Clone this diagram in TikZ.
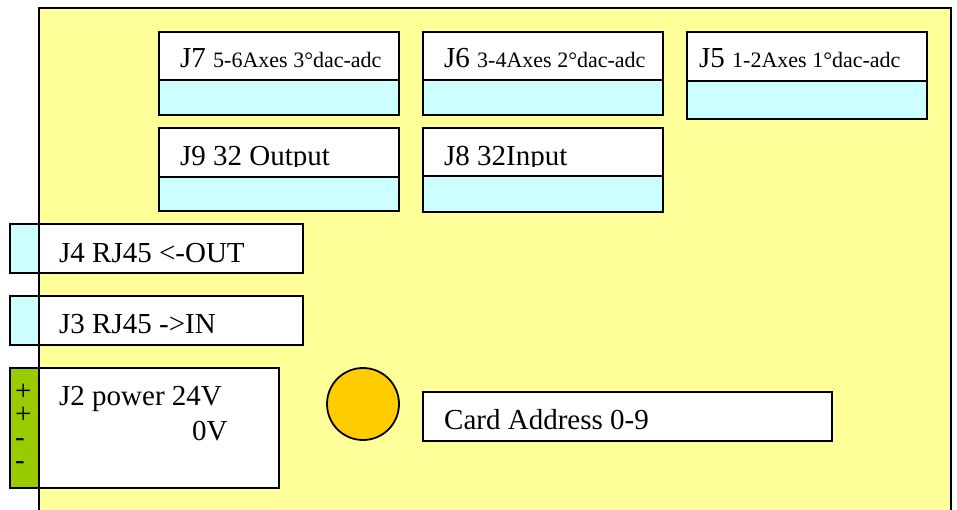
\documentclass[tikz,border=0pt]{standalone}
\usepackage{fontspec}
\setmainfont{Liberation Serif}

\definecolor{boardyellow}{HTML}{FFFF99}
\definecolor{pincyan}{HTML}{CCFFFF}
\definecolor{powergreen}{HTML}{99CC00}
\definecolor{switchorange}{HTML}{FFCC00}

\tikzset{
  part/.style={draw=black, line width=1.8pt, anchor=north west, inner sep=0pt, outer sep=0pt},
  plug/.style={part, fill=white},
  pins/.style={part, fill=pincyan},
  txt/.style={anchor=base west, inner sep=0pt, font=\fontsize{29}{29}\selectfont},
  signs/.style={anchor=north west, inner sep=0pt, align=left, font=\fontsize{29}{23}\selectfont}
}
\newcommand{\smalltxt}[1]{{\fontsize{22}{22}\selectfont #1}}

\begin{document}
\begin{tikzpicture}[x=1pt,y=-1pt]
\useasboundingbox (0,0) rectangle (957,510);
% board
\fill [boardyellow] (39,8) rectangle (951,510);
\draw [line width=1.8pt] (39,510) -- (39,8) -- (951,8) -- (951,510);

% top row
\node[plug, minimum width=240pt, minimum height=48pt] (j7) at (159,32) {};
\node[pins, minimum width=240pt, minimum height=35pt] (j7p) at (159,80) {};
\node[plug, minimum width=240pt, minimum height=48pt] (j6) at (423,32) {};
\node[pins, minimum width=240pt, minimum height=35pt] (j6p) at (423,80) {};
\node[plug, minimum width=240pt, minimum height=49pt] (j5) at (687,32) {};
\node[pins, minimum width=240pt, minimum height=38pt] (j5p) at (687,81) {};
\node[txt] (j7t) at (180,68) {J7 \smalltxt{5-6Axes 3°dac-adc}};
\node[txt] (j6t) at (444,68) {J6 \smalltxt{3-4Axes 2°dac-adc}};
\node[txt] (j5t) at (699,68) {J5 \smalltxt{1-2Axes 1°dac-adc}};

% second row
\node[plug, minimum width=240pt, minimum height=49pt] (j9) at (159,128) {};
\node[pins, minimum width=240pt, minimum height=34pt] (j9p) at (159,177) {};
\node[plug, minimum width=240pt, minimum height=48pt] (j8) at (423,128) {};
\node[pins, minimum width=240pt, minimum height=36pt] (j8p) at (423,176) {};
\begin{scope}
\clip (159,128) rectangle (663,166.5);
\node[txt] (j9t) at (180,166) {J9 32 Output};
\node[txt] (j8t) at (444,166) {J8 32Input};
\end{scope}

% rj45
\node[pins, minimum width=29pt, minimum height=49pt] (j4p) at (10,224) {};
\node[plug, minimum width=264pt, minimum height=49pt] (j4) at (39,224) {};
\node[txt] (j4t) at (59,263) {J4 RJ45 <-OUT};
\node[pins, minimum width=29pt, minimum height=49pt] (j3p) at (10,296) {};
\node[plug, minimum width=264pt, minimum height=49pt] (j3) at (39,296) {};
\node[txt] (j3t) at (59,333) {J3 RJ45 ->IN};

% power
\node[part, fill=powergreen, minimum width=29pt, minimum height=120pt] (j2p) at (10,368) {};
\node[plug, minimum width=240pt, minimum height=120pt] (j2) at (39,368) {};
\node[signs] (pol) at (15,384.3) {+\\+\\-\\-};
\node[txt] (j2t) at (59,405) {J2 power 24V};
\node[txt] (j2z) at (192,440) {0V};

% address
\node[draw=black, line width=1.8pt, fill=switchorange, circle, minimum size=72pt, inner sep=0pt] (sw) at (363,404) {};
\node[plug, minimum width=409pt, minimum height=49pt] (addr) at (423,392) {};
\node[txt] (addrt) at (444,429) {Card Address 0-9};
\end{tikzpicture}
\end{document}
